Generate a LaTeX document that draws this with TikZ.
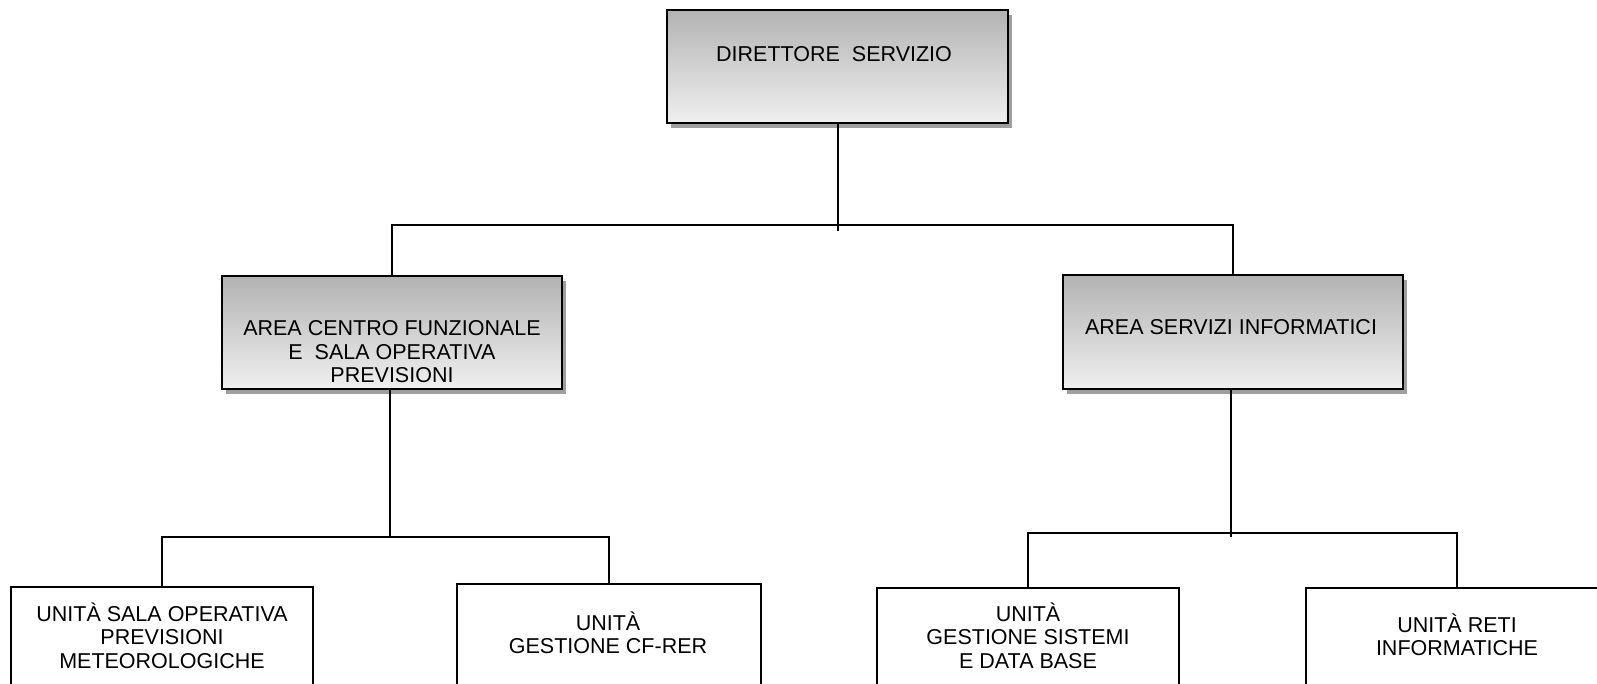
\documentclass[tikz,border=0pt]{standalone}
\usepackage{fontspec}
\setmainfont{Liberation Sans}
\usetikzlibrary{shadows}
\begin{document}
\begin{tikzpicture}[x=1pt,y=-1pt,
  gbox/.style={draw=black, line width=2pt, top color=gray!60, bottom color=gray!12,
    drop shadow={shadow xshift=4pt, shadow yshift=-5pt, fill=gray!75, opacity=1},
    inner sep=0pt, outer sep=0pt},
  wbox/.style={draw=black, line width=1.8pt, fill=white, inner sep=0pt, outer sep=0pt},
  lbl/.style={align=center, inner sep=0pt, font=\fontsize{21.5}{23.5}\selectfont},
  conn/.style={line width=1.8pt}
]
\clip (0,0) rectangle (1597,683);
\fill[white] (0,0) rectangle (1597,683);
% top-level boxes
\node[gbox, minimum width=341pt, minimum height=113pt] (dir) at (837.5,66.5) {};
\node[gbox, minimum width=340pt, minimum height=113pt] (areaL) at (392,332.5) {};
\node[gbox, minimum width=340pt, minimum height=114pt] (areaR) at (1233,332) {};
% bottom boxes (clipped by the page)
\node[wbox, minimum width=302pt, minimum height=160pt] (b1) at (162,667) {};
\node[wbox, minimum width=304pt, minimum height=160pt] (b2) at (609,664) {};
\node[wbox, minimum width=302pt, minimum height=160pt] (b3) at (1028,668) {};
\node[wbox, minimum width=302pt, minimum height=160pt] (b4) at (1457,668) {};
% texts
\node[lbl] (tdir) at (834,54) {DIRETTORE\ \ SERVIZIO};
\node[lbl] (tareaL) at (392,352) {AREA CENTRO FUNZIONALE\\E\ \ SALA OPERATIVA\\PREVISIONI};
\node[lbl] (tareaR) at (1231,327) {AREA SERVIZI INFORMATICI};
\node[lbl] (tb1) at (162,635.5) {UNITÀ SALA OPERATIVA\\PREVISIONI\\METEOROLOGICHE};
\node[lbl] (tb2) at (608,633) {UNITÀ\\GESTIONE CF-RER};
\node[lbl] (tb3) at (1028,635.5) {UNITÀ\\GESTIONE SISTEMI\\E DATA BASE};
\node[lbl] (tb4) at (1457,635) {UNITÀ RETI\\INFORMATICHE};
% junction coordinates
\coordinate (j0) at (838,231);
\coordinate (h0) at (838,225);
\coordinate (j1) at (390,537);
\coordinate (j2) at (1231,537);
% connectors
\draw[conn] (dir.south -| h0) -- (j0);
\draw[conn] (areaL.north) |- (h0) -| (areaR.north);
\draw[conn] ([xshift=-2pt]areaL.south) -- (j1);
\draw[conn] (b1.north) |- (j1) -| (b2.north);
\draw[conn] ([xshift=-2pt]areaR.south) -- (j2);
\coordinate (h2) at (1231,533);
\draw[conn] (b3.north) |- (h2) -| (b4.north);
\end{tikzpicture}
\end{document}
